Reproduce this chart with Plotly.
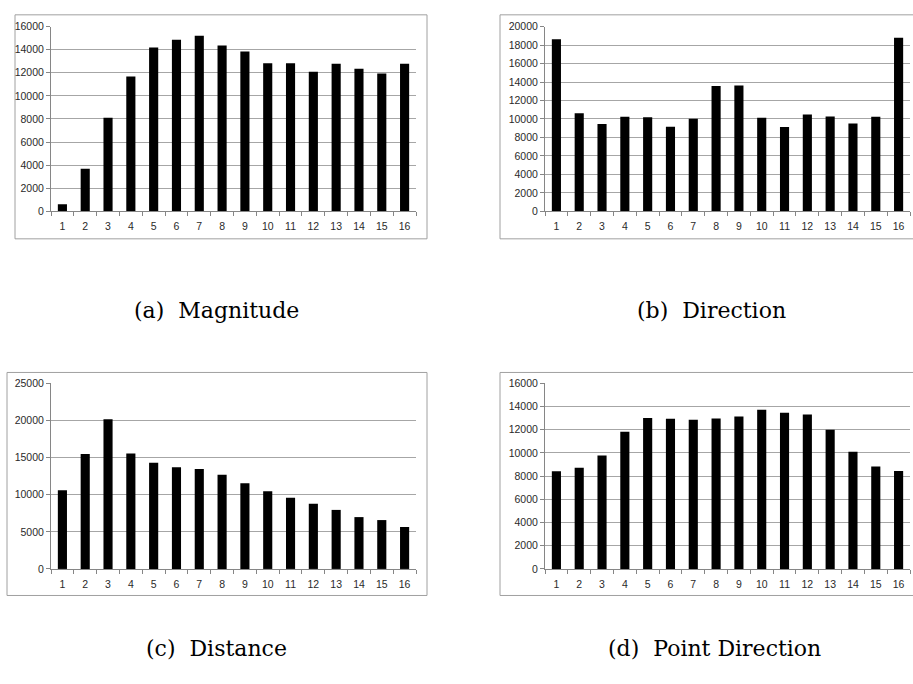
import plotly.graph_objects as go

W, H = 913, 684

categories = list(range(1, 17))
tick_labels = [str(c) for c in categories]

magnitude = [620, 3680, 8100, 11670, 14190, 14870, 15210, 14360, 13850, 12830,
             12830, 12100, 12780, 12350, 11930, 12780]
direction = [18620, 10620, 9450, 10230, 10190, 9170, 10020, 13560, 13630, 10120,
             9130, 10480, 10270, 9520, 10230, 18800]
distance = [10600, 15460, 20140, 15550, 14310, 13690, 13470, 12680, 11530, 10470,
            9580, 8790, 7950, 6980, 6580, 5650]
point_direction = [8420, 8730, 9780, 11820, 13000, 12950, 12860, 12970, 13140, 13710,
                   13460, 13310, 11990, 10090, 8820, 8450]

captions = ["(a)  Magnitude", "(b)  Direction", "(c)  Distance", "(d)  Point Direction"]
series = [magnitude, direction, distance, point_direction]
y_max = [16000, 20000, 25000, 16000]
y_step = [2000, 2000, 5000, 2000]

# layout in pixels: (plot x0, x1, y_top, y_bottom), frame (x0, x1, y0, y1), caption center (x, y)
plots = [
    dict(px=(51, 416), py=(21, 209), frame=(15, 427, 9, 237), cap=(216, 310)),
    dict(px=(545, 910), py=(21, 209), frame=(500, 920, 9, 237), cap=(711, 310)),
    dict(px=(51, 416), py=(384, 573), frame=(7, 427, 373, 600), cap=(216, 654)),
    dict(px=(545, 910), py=(384, 573), frame=(500, 920, 373, 600), cap=(714, 654)),
]

def fx(x):
    return x / W

def fy(y):
    return 1 - y / H

fig = go.Figure()
shapes = []
annotations = []
tick_font = dict(family="Liberation Sans, Arial, sans-serif", size=10.5, color="#2a2a2a")

for i, (vals, p) in enumerate(zip(series, plots)):
    n = i + 1
    xa = "x" if n == 1 else f"x{n}"
    ya = "y" if n == 1 else f"y{n}"
    fig.add_trace(go.Bar(x=categories, y=vals, xaxis=xa, yaxis=ya,
                         marker=dict(color="#000000", line=dict(width=0)),
                         showlegend=False))
    xkey = "xaxis" if n == 1 else f"xaxis{n}"
    ykey = "yaxis" if n == 1 else f"yaxis{n}"
    fig.update_layout(**{
        xkey: dict(domain=[fx(p["px"][0]), fx(p["px"][1])], anchor=ya,
                   range=[0.5, 16.5], tickmode="array", tickvals=categories,
                   ticktext=tick_labels, ticks="", showgrid=False, zeroline=False,
                   showline=True, linecolor="#868686", linewidth=1,
                   tickfont=tick_font, ticklabelstandoff=5,
                   minor=dict(tickmode="array", tickvals=[c - 0.5 for c in categories] + [16.5],
                              ticks="outside", ticklen=4, tickcolor="#868686", showgrid=False),
                   fixedrange=True),
        ykey: dict(domain=[fy(p["py"][1]), fy(p["py"][0])], anchor=xa,
                   range=[0, y_max[i]], dtick=y_step[i], tick0=0, tickmode="linear",
                   tickformat="d",
                   showgrid=True, gridcolor="#a6a6a6", gridwidth=1, zeroline=False,
                   showline=True, linecolor="#868686", linewidth=1,
                   ticks="outside", ticklen=4, tickcolor="#868686",
                   tickfont=tick_font, fixedrange=True),
    })
    f = p["frame"]
    shapes.append(dict(type="rect", xref="paper", yref="paper",
                       x0=fx(f[0]), x1=fx(f[1]), y0=fy(f[3]), y1=fy(f[2]),
                       line=dict(color="#a0a0a0", width=1), fillcolor="rgba(0,0,0,0)",
                       layer="below"))
    annotations.append(dict(text=captions[i], xref="paper", yref="paper",
                            x=fx(p["cap"][0]), y=fy(p["cap"][1]),
                            xanchor="center", yanchor="middle", showarrow=False,
                            font=dict(family="DejaVu Serif, serif", size=22, color="#000000")))

fig.update_layout(width=W, height=H, margin=dict(l=0, r=0, t=0, b=0),
                  paper_bgcolor="white", plot_bgcolor="white",
                  bargap=0.6, shapes=shapes, annotations=annotations)

fig.write_html("out.html", config={"displayModeBar": False})
